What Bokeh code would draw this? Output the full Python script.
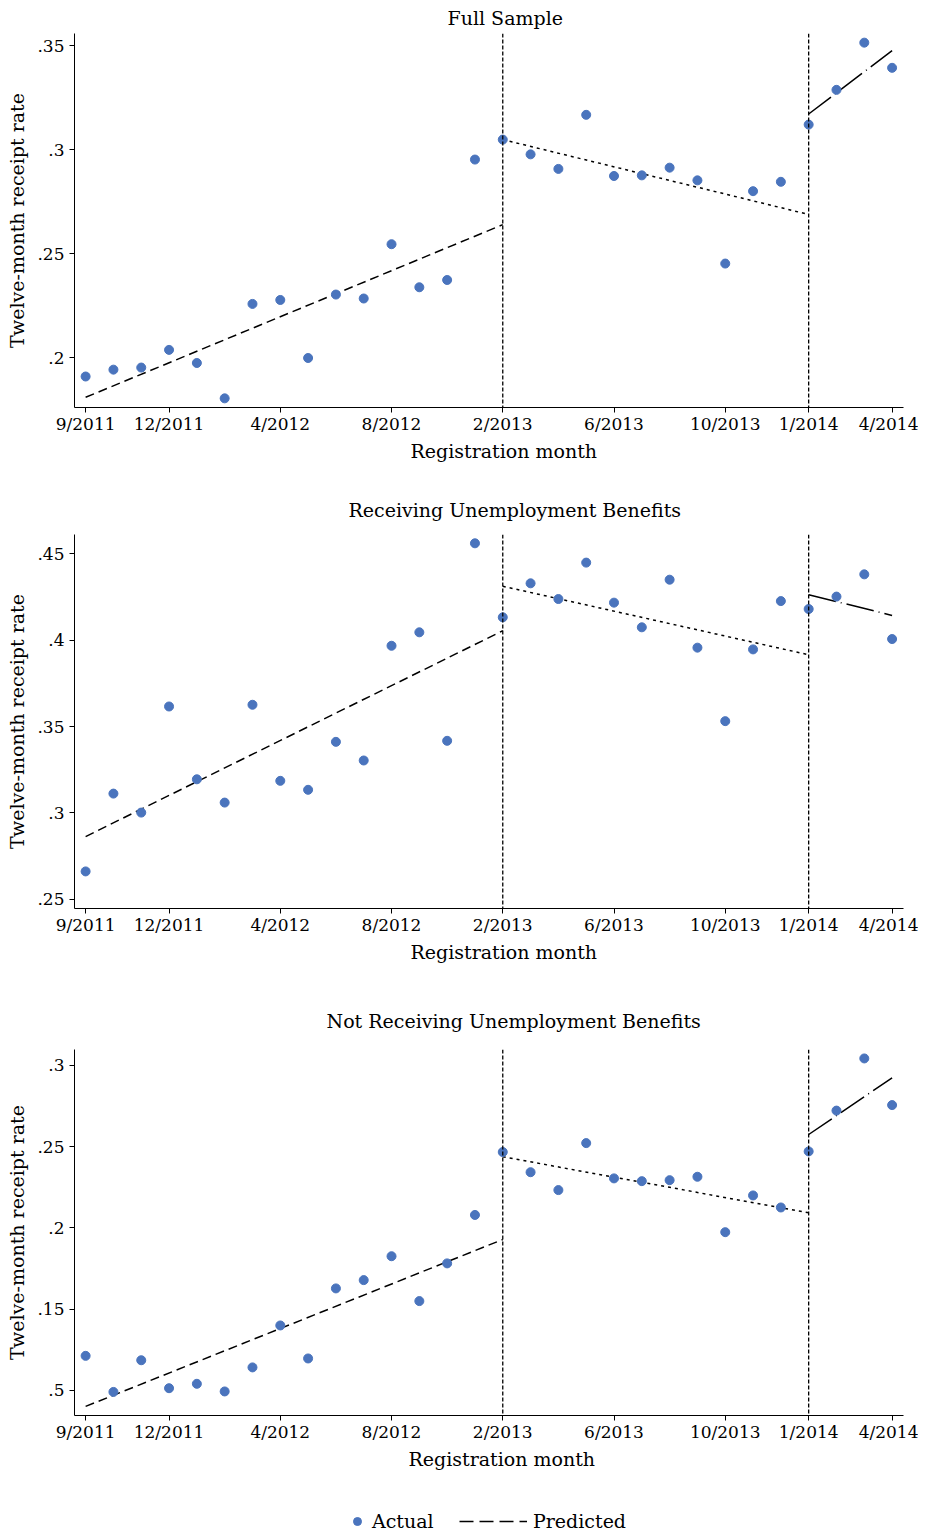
from bokeh.plotting import figure
from bokeh.models import Range1d, FixedTicker, Title, Legend, LegendItem, Span
from bokeh.layouts import column
from bokeh.embed import file_html
from bokeh.resources import INLINE

# ---------------- data ----------------
month_idx = list(range(30))
tick_pos = [0, 3, 7, 11, 15, 19, 23, 26, 29]
tick_labels = ["9/2011", "12/2011", "4/2012", "8/2012", "2/2013",
               "6/2013", "10/2013", "1/2014", "4/2014"]
break_idx = [15, 26]
seg_start = [0, 15, 26]
seg_end = [15, 26, 29]

full_actual = [0.1909, 0.1942, 0.1952, 0.2037, 0.1974, 0.1804, 0.2258, 0.2277,
               0.1998, 0.2303, 0.2284, 0.2545, 0.2338, 0.2373, 0.2952, 0.3048,
               0.2977, 0.2907, 0.3167, 0.2873, 0.2876, 0.2913, 0.2852, 0.2452,
               0.2800, 0.2845, 0.3120, 0.3287, 0.3514, 0.3393]
full_pred_start = [0.1809, 0.3048, 0.3171]
full_pred_end = [0.2639, 0.2688, 0.3476]

recv_actual = [0.2660, 0.3111, 0.3001, 0.3616, 0.3194, 0.3059, 0.3626, 0.3185,
               0.3133, 0.3411, 0.3303, 0.3968, 0.4046, 0.3417, 0.4562, 0.4133,
               0.4330, 0.4239, 0.4450, 0.4218, 0.4075, 0.4351, 0.3957, 0.3531,
               0.3947, 0.4227, 0.4181, 0.4253, 0.4382, 0.4007]
recv_pred_start = [0.2862, 0.4313, 0.4264]
recv_pred_end = [0.4055, 0.3916, 0.4144]

notr_actual = [0.1213, 0.0991, 0.1186, 0.1014, 0.1041, 0.0994, 0.1142, 0.1400,
               0.1197, 0.1628, 0.1679, 0.1826, 0.1550, 0.1782, 0.2080, 0.2467,
               0.2343, 0.2233, 0.2522, 0.2305, 0.2288, 0.2294, 0.2315, 0.1974,
               0.2200, 0.2126, 0.2471, 0.2722, 0.3043, 0.2756]
notr_pred_start = [0.0902, 0.2438, 0.2575]
notr_pred_end = [0.1929, 0.2093, 0.2924]

legend_labels = ["Actual", "Predicted"]

panels = [
    dict(title="Full Sample", actual=full_actual, ps=full_pred_start, pe=full_pred_end,
         yr=(0.176, 0.3558), yt=[0.2, 0.25, 0.3, 0.35], yl=[".2", ".25", ".3", ".35"],
         fh=374, bt=33, bb=75, ts=9, toff=373, loff=336),
    dict(title="Receiving Unemployment Benefits", actual=recv_actual, ps=recv_pred_start,
         pe=recv_pred_end, yr=(0.2445, 0.4613), yt=[0.25, 0.3, 0.35, 0.4, 0.45],
         yl=[".25", ".3", ".35", ".4", ".45"], fh=374, bt=52, bb=81, ts=28, toff=274, loff=336),
    dict(title="Not Receiving Unemployment Benefits", actual=notr_actual, ps=notr_pred_start,
         pe=notr_pred_end, yr=(0.0846, 0.3098), yt=[0.1, 0.15, 0.2, 0.25, 0.3],
         yl=[".5", ".15", ".2", ".25", ".3"], fh=366, bt=60, bb=80, ts=36, toff=252, loff=334),
]

FONT = "DejaVu Serif"
DOT = "#4a74bd"
seg_dash = ["9 5", "3 4", "28 5 1 5"]
BL, BR, FW = 74, 15, 829


def no_align(fig):
    try:
        fig.frame_align = False
    except Exception:
        pass


figs = []
for k, pn in enumerate(panels):
    p = figure(frame_width=FW, frame_height=pn["fh"], output_backend="svg",
               toolbar_location=None,
               x_range=Range1d(-0.40, 29.41), y_range=Range1d(*pn["yr"]),
               min_border_left=BL, min_border_right=BR,
               min_border_top=pn["bt"], min_border_bottom=pn["bb"])
    no_align(p)
    p.outline_line_color = None
    p.grid.visible = False
    p.background_fill_color = "white"
    p.border_fill_color = "white"

    p.title.text = pn["title"]
    p.title.align = "left"
    p.title.offset = pn["toff"]
    p.title.standoff = pn["ts"]
    p.title.text_font = FONT
    p.title.text_font_size = "19px"
    p.title.text_font_style = "normal"
    p.title.text_color = "black"

    xa = p.xaxis[0]
    xa.ticker = FixedTicker(ticks=tick_pos)
    xa.major_label_overrides = {t: l for t, l in zip(tick_pos, tick_labels)}
    xa.minor_tick_line_color = None
    xa.major_tick_in = 0
    xa.major_tick_out = 5
    xa.major_label_standoff = 1
    xa.major_label_text_font = FONT
    xa.major_label_text_font_size = "17px"
    xa.major_label_text_color = "black"
    xa.axis_line_color = "black"
    xa.major_tick_line_color = "black"

    ya = p.yaxis[0]
    ya.ticker = FixedTicker(ticks=pn["yt"])
    ya.major_label_overrides = {t: l for t, l in zip(pn["yt"], pn["yl"])}
    ya.minor_tick_line_color = None
    ya.major_tick_in = 0
    ya.major_tick_out = 5
    ya.major_label_standoff = 5
    ya.major_label_text_font = FONT
    ya.major_label_text_font_size = "17px"
    ya.major_label_text_color = "black"
    ya.axis_label = "Twelve-month receipt rate"
    ya.axis_label_text_font = FONT
    ya.axis_label_text_font_size = "19px"
    ya.axis_label_text_font_style = "normal"
    ya.axis_label_text_color = "black"
    ya.axis_label_standoff = 6
    ya.axis_line_color = "black"
    ya.major_tick_line_color = "black"

    p.add_layout(Title(text="Registration month", align="left", offset=pn["loff"],
                       standoff=2, text_font=FONT, text_font_size="19px",
                       text_font_style="normal", text_color="black"), "below")

    for b in break_idx:
        p.add_layout(Span(location=b, dimension="height", line_color="black",
                          line_width=1.3, line_dash="4 2"))

    for s in range(3):
        p.line([seg_start[s], seg_end[s]], [pn["ps"][s], pn["pe"][s]],
               line_color="black", line_width=1.5, line_dash=seg_dash[s])

    p.scatter(month_idx, pn["actual"], size=9, fill_color=DOT, line_color=DOT)
    figs.append(p)

# ---------------- legend strip ----------------
pl = figure(frame_width=FW, frame_height=38, output_backend="svg", toolbar_location=None,
            x_axis_type=None, y_axis_type=None, x_range=Range1d(0, 1), y_range=Range1d(0, 1),
            min_border_left=BL, min_border_right=BR, min_border_top=0, min_border_bottom=0)
no_align(pl)
pl.outline_line_color = None
pl.grid.visible = False
r_dot = pl.scatter([float("nan")], [float("nan")], size=8, fill_color=DOT, line_color=DOT)
r_line = pl.line([float("nan"), float("nan")], [float("nan"), float("nan")],
                 line_color="black", line_width=1.5, line_dash="14 6")
common = dict(orientation="horizontal", border_line_color=None, background_fill_alpha=0,
              label_text_font=FONT, label_text_font_size="19px", label_text_color="black",
              padding=0, margin=0, glyph_height=20, label_height=20)
leg1 = Legend(items=[LegendItem(label=legend_labels[0], renderers=[r_dot])],
              location=(273, 1), glyph_width=20, label_standoff=5, **common)
leg2 = Legend(items=[LegendItem(label=legend_labels[1], renderers=[r_line])],
              location=(385, 1), glyph_width=68, label_standoff=6, **common)
pl.add_layout(leg1)
pl.add_layout(leg2)
figs.append(pl)

layout = column(*figs)
open("out.html", "w").write(file_html(layout, INLINE))
